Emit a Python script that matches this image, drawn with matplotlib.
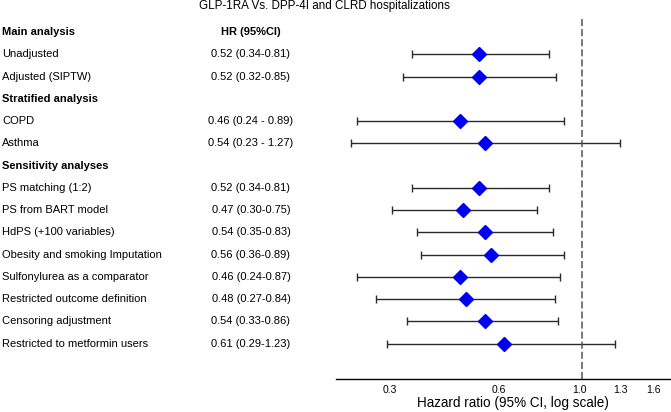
import matplotlib
matplotlib.use("Agg")
import matplotlib.pyplot as plt
import matplotlib.transforms as mtransforms

plt.rcParams['font.family'] = ['Liberation Sans', 'DejaVu Sans']

title = 'GLP-1RA Vs. DPP-4I and CLRD hospitalizations'

labels = ['Main analysis', 'Unadjusted', 'Adjusted (SIPTW)', 'Stratified analysis',
          'COPD', 'Asthma', 'Sensitivity analyses', 'PS matching (1:2)',
          'PS from BART model', 'HdPS (+100 variables)', 'Obesity and smoking Imputation',
          'Sulfonylurea as a comparator', 'Restricted outcome definition',
          'Censoring adjustment', 'Restricted to metformin users']
is_header = [True, False, False, True, False, False, True, False,
             False, False, False, False, False, False, False]
hr = [None, 0.52, 0.52, None, 0.46, 0.54, None, 0.52, 0.47, 0.54, 0.56, 0.46, 0.48, 0.54, 0.61]
lo = [None, 0.34, 0.32, None, 0.24, 0.23, None, 0.34, 0.30, 0.35, 0.36, 0.24, 0.27, 0.33, 0.29]
hi = [None, 0.81, 0.85, None, 0.89, 1.27, None, 0.81, 0.75, 0.83, 0.89, 0.87, 0.84, 0.86, 1.23]
hr_text = ['HR (95%CI)', '0.52 (0.34-0.81)', '0.52 (0.32-0.85)', '',
           '0.46 (0.24 - 0.89)', '0.54 (0.23 - 1.27)', '', '0.52 (0.34-0.81)',
           '0.47 (0.30-0.75)', '0.54 (0.35-0.83)', '0.56 (0.36-0.89)',
           '0.46 (0.24-0.87)', '0.48 (0.27-0.84)', '0.54 (0.33-0.86)', '0.61 (0.29-1.23)']
xticks = [0.3, 0.6, 1.0, 1.3, 1.6]
xtick_labels = ['0.3', '0.6', '1.0', '1.3', '1.6']

W, H = 671, 412
fig = plt.figure(figsize=(W / 100, H / 100), dpi=100)
ax = fig.add_axes([336 / W, 1 - 379.3 / H, 1 - 336 / W, (379.3 - 18) / H])

ax.set_xscale('log')
ax.set_xlim(0.2096, 1.759)
ax.set_ylim(15.6, -0.63)

for i in range(len(labels)):
    if hr[i] is None:
        continue
    ax.errorbar(hr[i], i, xerr=[[hr[i] - lo[i]], [hi[i] - hr[i]]], fmt='none',
                ecolor='#2a2a2a', elinewidth=1.0, capsize=2.6, capthick=1.0)
    ax.plot(hr[i], i, marker='D', color='#0000f0', markersize=6.8, zorder=3)

ax.axvline(1.0, color='#555555', linestyle=(0, (4.6, 2)), linewidth=1.1)

for s in ['top', 'right', 'left']:
    ax.spines[s].set_visible(False)
ax.spines['bottom'].set_linewidth(1.0)
ax.set_yticks([])
ax.set_xticks(xticks)
ax.set_xticklabels(xtick_labels, fontsize=7.5)
ax.minorticks_off()
ax.tick_params(axis='x', length=0, pad=4)
for lab in ax.get_xticklabels():
    lab.set_transform(lab.get_transform() + mtransforms.ScaledTranslation(-3 / 100, 0, fig.dpi_scale_trans))
ax.set_xlabel('Hazard ratio (95% CI, log scale)', fontsize=9.75, labelpad=0)
ax.xaxis.set_label_coords(0.528, -0.045)
ax.xaxis.label.set_va('top')

trans = mtransforms.blended_transform_factory(fig.transFigure, ax.transData)
for i, lab in enumerate(labels):
    fig.text(2 / W, i, lab, transform=trans, fontsize=8, va='center', ha='left',
             fontweight='bold' if is_header[i] else 'normal')
    if hr_text[i]:
        fig.text(251 / W, i, hr_text[i], transform=trans, fontsize=8, va='center',
                 ha='center', fontweight='bold' if i == 0 else 'normal')

fig.text(324 / W, 1 - 0.5 / H, title, fontsize=8.4, ha='center', va='top')

fig.savefig('out.png', dpi=100)
